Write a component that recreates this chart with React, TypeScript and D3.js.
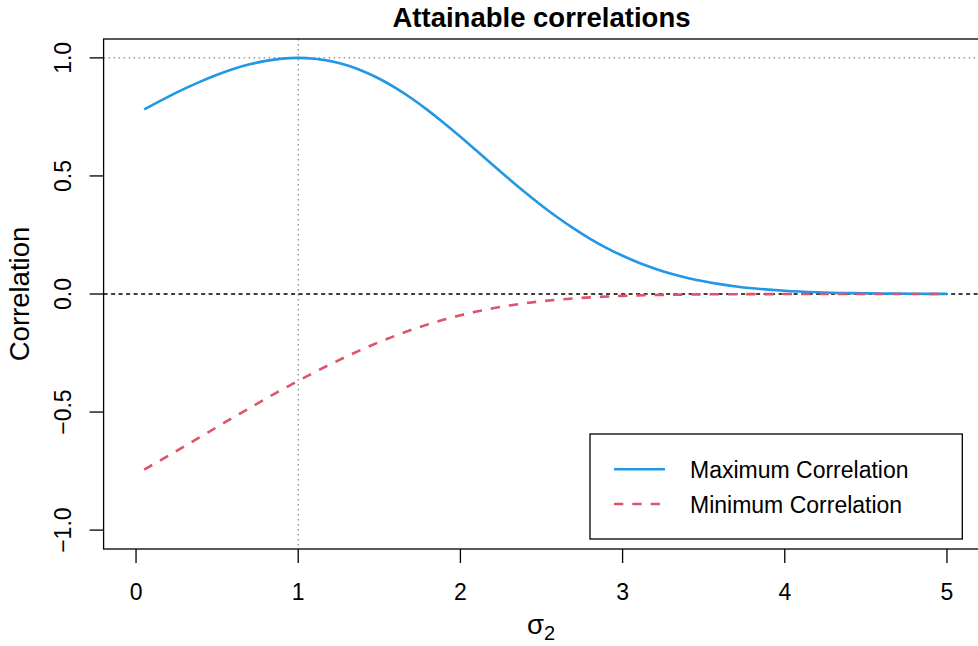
import React from "react";
import * as d3 from "d3";

// sigma_2 values (x)
const sigma2 = [
  0.05, 0.1, 0.2, 0.3, 0.4, 0.5, 0.6, 0.7, 0.8, 0.9, 1.0,
  1.1, 1.2, 1.3, 1.4, 1.5, 1.6, 1.7, 1.8, 1.9, 2.0,
  2.1, 2.2, 2.3, 2.4, 2.5, 2.6, 2.7, 2.8, 2.9, 3.0,
  3.1, 3.2, 3.3, 3.4, 3.5, 3.6, 3.7, 3.8, 3.9, 4.0,
  4.2, 4.4, 4.6, 4.8, 5.0,
];
// Maximum attainable correlation
const maxCorr = [
  0.7818, 0.8003, 0.8361, 0.8697, 0.9007, 0.9286, 0.9527, 0.9726, 0.9874, 0.9968, 1.0,
  0.9966, 0.9862, 0.9686, 0.9437, 0.9117, 0.8729, 0.8279, 0.7777, 0.7233, 0.6658,
  0.6064, 0.5465, 0.4873, 0.4299, 0.3752, 0.3239, 0.2767, 0.2338, 0.1955, 0.1618,
  0.1324, 0.1073, 0.086, 0.0682, 0.0536, 0.0417, 0.032, 0.0244, 0.0184, 0.0137,
  0.0074, 0.0038, 0.0019, 0.0009, 0.0004,
];
// Minimum attainable correlation
const minCorr = [
  -0.7437, -0.7242, -0.6845, -0.6443, -0.6038, -0.5632, -0.5229, -0.483, -0.4437, -0.4053, -0.3679,
  -0.3317, -0.2971, -0.264, -0.2327, -0.2034, -0.1762, -0.1513, -0.1286, -0.1082, -0.0901,
  -0.0743, -0.0606, -0.0489, -0.039, -0.0308, -0.0241, -0.0186, -0.0142, -0.0108, -0.0081,
  -0.006, -0.0044, -0.0032, -0.0023, -0.0016, -0.0011, -0.0008, -0.0006, -0.0004, -0.0003,
  -0.0001, 0, 0, 0, 0,
];
const xTicks = [0, 1, 2, 3, 4, 5];
const yTicks = [-1, -0.5, 0, 0.5, 1];
const legendLabels = ["Maximum Correlation", "Minimum Correlation"];

const W = 978;
const H = 646;
const FONT = "'Liberation Sans', Arial, Helvetica, sans-serif";
const BLUE = "#2297E6";
const RED = "#DF536B";

export default function App() {
  const left = 103.6, right = 979.4, top = 39, bottom = 549;
  const x = d3.scaleLinear().domain([-0.2, 5.2]).range([left, right]);
  const y = d3.scaleLinear().domain([-1.08, 1.08]).range([bottom, top]);

  const lineGen = d3
    .line<number>()
    .x((_, i) => x(sigma2[i]))
    .y((d) => y(d))
    .curve(d3.curveMonotoneX);

  const fs = 23;
  const fsLab = 27.5;

  return (
    <svg
      width={W}
      height={H}
      style={{ position: "absolute", left: 0, top: 0, background: "#fff" }}
      fontFamily={FONT}
    >
      <rect x={0} y={0} width={W} height={H} fill="#fff" />
      {/* reference lines */}
      <line x1={left} x2={right} y1={y(1)} y2={y(1)} stroke="#666" strokeWidth={1} strokeDasharray="1.5 3.5" />
      <line x1={x(1)} x2={x(1)} y1={top} y2={bottom} stroke="#666" strokeWidth={1} strokeDasharray="1.5 3.5" />
      <line x1={left} x2={right} y1={y(0)} y2={y(0)} stroke="#000" strokeWidth={1.3} strokeDasharray="4 3.5" />

      {/* curves */}
      <path d={lineGen(maxCorr) || ""} fill="none" stroke={BLUE} strokeWidth={2.6} />
      <path d={lineGen(minCorr) || ""} fill="none" stroke={RED} strokeWidth={2.6} strokeDasharray="9.3 9" />

      {/* box */}
      <rect x={left} y={top} width={right - left} height={bottom - top} fill="none" stroke="#000" strokeWidth={1.3} />

      {/* x axis */}
      {xTicks.map((t) => (
        <g key={"x" + t}>
          <line x1={x(t)} x2={x(t)} y1={bottom} y2={bottom + 14} stroke="#000" strokeWidth={1.3} />
          <text x={x(t)} y={600} textAnchor="middle" fontSize={fs} fill="#000">
            {t}
          </text>
        </g>
      ))}
      {/* y axis */}
      {yTicks.map((t) => (
        <g key={"y" + t}>
          <line x1={left - 14} x2={left} y1={y(t)} y2={y(t)} stroke="#000" strokeWidth={1.3} />
          <text
            transform={`translate(71,${y(t)}) rotate(-90)`}
            textAnchor="middle"
            fontSize={fs}
            fill="#000"
          >
            {t === 0 ? "0.0" : t < 0 ? "\u2212" + Math.abs(t).toFixed(1) : t.toFixed(1)}
          </text>
        </g>
      ))}

      {/* title */}
      <text x={(left + right) / 2} y={27} textAnchor="middle" fontSize={27.5} fontWeight="bold" fill="#000">
        Attainable correlations
      </text>
      {/* axis labels */}
      <text transform={`translate(29,${y(0)}) rotate(-90)`} textAnchor="middle" fontSize={fsLab} fill="#000">
        Correlation
      </text>
      <text x={541} y={634} textAnchor="middle" fontSize={fsLab} fill="#000">
        σ<tspan fontSize={20} dy={6}>2</tspan>
      </text>

      {/* legend */}
      <rect x={590} y={434} width={372.3} height={105} fill="#fff" stroke="#000" strokeWidth={1.3} />
      <line x1={614} x2={665} y1={469.3} y2={469.3} stroke={BLUE} strokeWidth={2.6} />
      <line x1={614} x2={665} y1={504} y2={504} stroke={RED} strokeWidth={2.6} strokeDasharray="9.3 9" />
      <text x={690} y={478} fontSize={fs} fill="#000">{legendLabels[0]}</text>
      <text x={690} y={512.5} fontSize={fs} fill="#000">{legendLabels[1]}</text>
    </svg>
  );
}
